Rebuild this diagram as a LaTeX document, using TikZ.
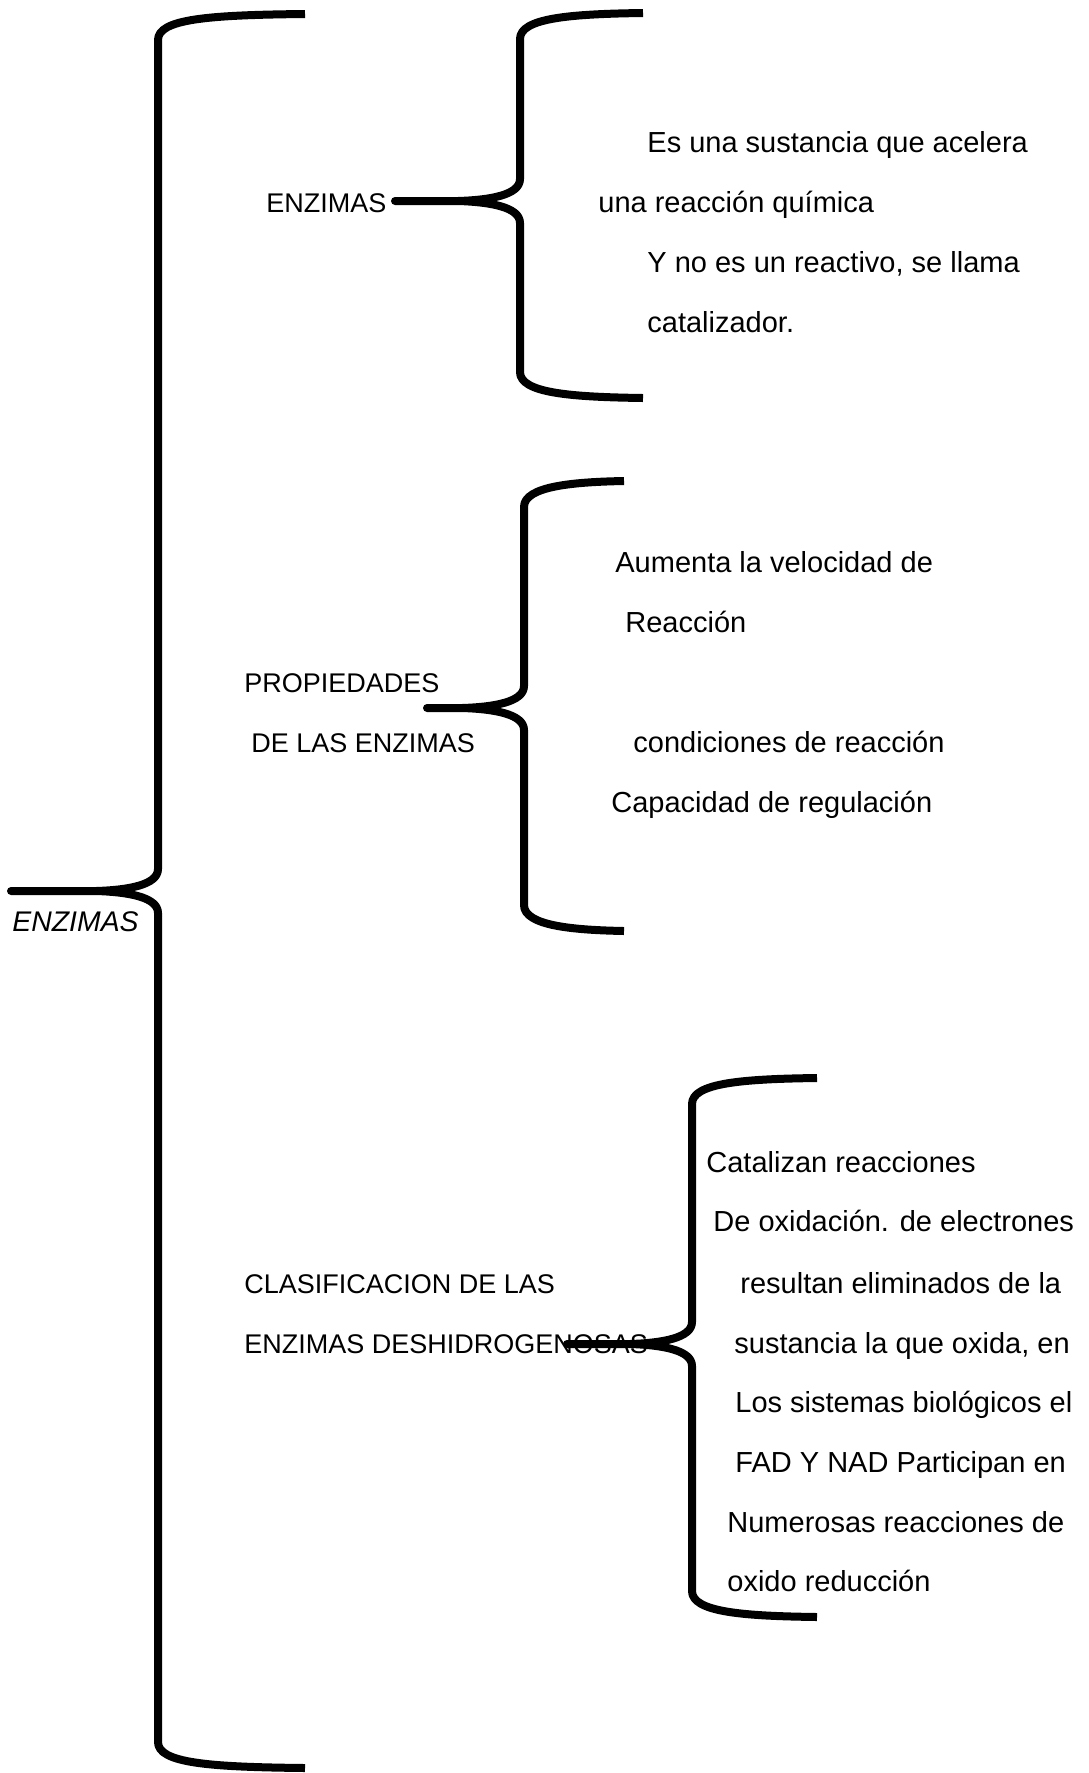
\documentclass[tikz,border=0pt]{standalone}
\usepackage{fontspec}
\setmainfont{Liberation Sans}
\usepackage{tikz}
\usetikzlibrary{positioning}
\tikzset{%
  texto/.style = {anchor=west, inner sep=0pt, text height=10.4pt, text depth=0pt,
    font=\fontsize{14.5}{17}\selectfont}, % lines of text
  titulo/.style = {texto, font=\fontsize{13.5}{17}\selectfont}, % capital labels
  llave/.style = {line width=4pt, line cap=butt, line join=round} % brace
}
% brace: name, tip x, tip y, stem x, end x, top y, bottom y
\newcommand{\llave}[7]{%
  \coordinate (#1) at (#2,#3);
  \draw[llave] (#5,#6) .. controls ({#4+50},{#6+1}) and (#4,{#6+5}) .. (#4,{#6+26})
    -- (#4,{#3-22}) .. controls (#4,{#3-6}) and ({#4-30},{#3-1}) .. ({#4-62},#3)
    -- (#1) -- ({#4-62},#3)
    .. controls ({#4-30},{#3+1}) and (#4,{#3+6}) .. (#4,{#3+22})
    -- (#4,{#7-26}) .. controls (#4,{#7-5}) and ({#4+50},{#7-1}) .. (#5,#7);}

\begin{document}
\begin{tikzpicture}[x=0.5pt, y=-0.5pt]
  \useasboundingbox (0,0) rectangle (1088,1773);

  % main brace
  \llave{raiztip}{11}{891}{158}{305}{14}{1768}
  \draw node at (12,921) [texto, font=\fontsize{14.2}{17}\selectfont\itshape] (raiz) {ENZIMAS};

  % first group
  \llave{enztip}{395}{201}{520}{643}{13}{398}
  \draw node at (266,202) [titulo] (enz) {ENZIMAS};
  \draw node at (647,142) [texto] (def1) {Es una sustancia que acelera};
  \draw node at (598,202) [texto] (def2) {una reacción química};
  \draw node at (647,262) [texto] (def3) {Y no es un reactivo, se llama};
  \draw node at (647,322) [texto] (def4) {catalizador.};

  % second group
  \llave{proptip}{427}{708}{524}{624}{481}{931}
  \draw node at (244,682) [titulo] (prop1) {PROPIEDADES};
  \draw node at (251,742) [titulo] (prop2) {DE LAS ENZIMAS};
  \draw node at (615,562) [texto] (p1) {Aumenta la velocidad de};
  \draw node at (625,622) [texto] (p2) {Reacción};
  \draw node at (633,742) [texto] (p3) {condiciones de reacción};
  \draw node at (611,802) [texto] (p4) {Capacidad de regulación};

  % third group
  \draw node at (244,1283) [titulo] (clas1) {CLASIFICACION DE LAS};
  \draw node at (244,1343) [titulo] (clas2) {ENZIMAS DESHIDROGENOSAS};
  \llave{clastip}{567}{1344}{692}{817}{1078}{1617}
  \draw node at (706,1162) [texto] (c1) {Catalizan reacciones};
  \draw node at (713,1221) [texto] (c2) {De oxidación. de electrones};
  \draw node at (740,1283) [texto] (c3) {resultan eliminados de la};
  \draw node at (734,1343) [texto] (c4) {sustancia la que oxida, en};
  \draw node at (735,1402) [texto] (c5) {Los sistemas biológicos el};
  \draw node at (735,1462) [texto] (c6) {FAD Y NAD Participan en};
  \draw node at (727,1522) [texto] (c7) {Numerosas reacciones de};
  \draw node at (727,1581) [texto] (c8) {oxido reducción};

\end{tikzpicture}
\end{document}
